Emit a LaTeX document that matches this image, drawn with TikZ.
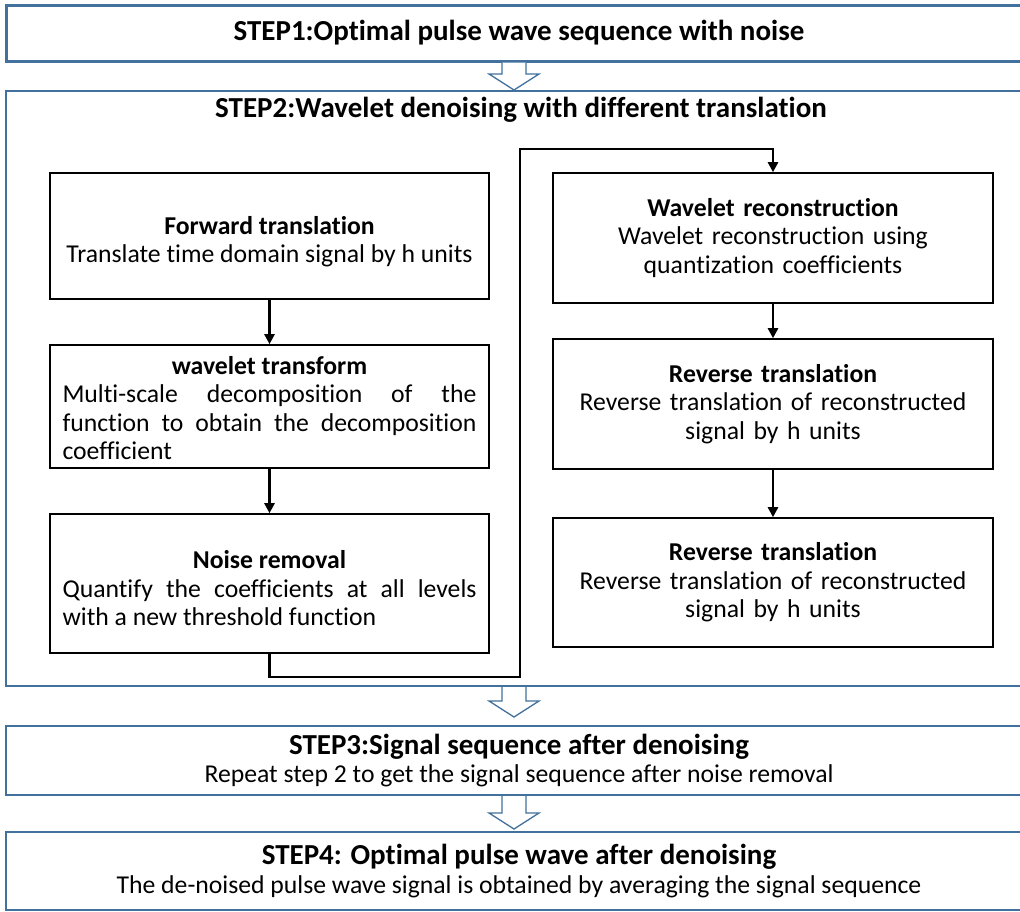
\documentclass[tikz,border=0pt]{standalone}
\usepackage{fontspec}
\setmainfont{Carlito}[Ligatures=NoCommon]
\usetikzlibrary{arrows.meta,calc}
\definecolor{stepblue}{RGB}{65,113,156}
\newcommand\stepbodyfont{\fontsize{25.7}{28.5}\selectfont}
\newcommand\steptitlefont{\fontsize{29}{32}\selectfont\bfseries}
\newcommand\justblock[3]{\begin{minipage}{414pt}\stepbodyfont\vspace*{#1}%
  {\centering\textbf{#2}\par}%
  \leftskip=0pt \rightskip=0pt \parfillskip=0pt plus 1fil \parindent=0pt
  \hyphenpenalty=10000 #3\par\end{minipage}}
\newcommand\centblock[3]{\begin{minipage}{430pt}\stepbodyfont\vspace*{#1}%
  \centering\textbf{#2}\\#3\par\end{minipage}}
\newcommand\hollowarrow[3]{%
  \path (ax |- #1.south) coordinate (ht) (ax |- #2.north) coordinate (hb);
  \draw[hollow] ($(ht)+(-12,0)$) -- ($(hb)+(-12,-16-#3)$) -- ($(hb)+(-25,-16-#3)$)
    -- ($(hb)+(0,-#3)$) -- ($(hb)+(25,-16-#3)$) -- ($(hb)+(12,-16-#3)$) -- ($(ht)+(12,0)$);
}
\begin{document}
\begin{tikzpicture}[x=1pt,y=-1pt,
  stepbox/.style={draw=stepblue, line width=2pt, fill=white, inner sep=0pt, minimum width=1026pt, align=center, font=\stepbodyfont},
  subbox/.style={draw=black, line width=1.6pt, inner sep=0pt, text width=430pt, align=center, font=\stepbodyfont},
  jbox/.style={draw=black, line width=1.6pt, inner sep=0pt, font=\stepbodyfont},
  conn/.style={line width=2.6pt, -{Triangle[width=10pt,length=10pt]}},
  hollow/.style={draw=stepblue, line width=1.3pt, fill=white, line join=miter}]
\useasboundingbox (0,0) rectangle (1020,911);
\clip (0,0) rectangle (1020,911);
\fill[white] (0,0) rectangle (1020,911);
\coordinate (ax) at (514,0);

% step boxes
\node[stepbox, line width=3pt, minimum height=56pt] (s1) at (519,33)
  {\steptitlefont STEP1:Optimal pulse wave sequence with noise};
\node[stepbox, minimum height=595pt] (s2) at (519,388.5) {};
\node[font=\steptitlefont] (s2t) at (521,110) {STEP2:Wavelet denoising with different translation};
\node[stepbox, minimum height=69pt] (s3) at (519,760.5)
  {{\steptitlefont STEP3:Signal sequence after denoising}\\Repeat step 2 to get the signal sequence after noise removal};
\node[stepbox, minimum height=78pt] (s4) at (519,871)
  {{\steptitlefont STEP4: Optimal pulse wave after denoising}\\The de-noised pulse wave signal is obtained by averaging the signal sequence};

% left column
\node[jbox, minimum width=439pt, minimum height=126pt] (ft) at (269.5,236)
  {\centblock{11pt}{Forward translation}{Translate time domain signal by h units}};
\node[jbox, minimum width=439pt, minimum height=123pt] (wt) at (269.5,406.5)
  {\justblock{3pt}{wavelet transform}{Multi-scale decomposition of the\linebreak function to obtain the decomposition\linebreak coefficient}};
\node[jbox, minimum width=439pt, minimum height=139pt] (nr) at (269.5,583.5)
  {\justblock{10pt}{Noise removal}{Quantify the coefficients at all levels\linebreak with a new threshold function}};

% right column
\node[subbox, minimum width=440pt, minimum height=130pt] (wr) at (773,238)
  {\textbf{Wavelet reconstruction}\\Wavelet reconstruction using\\quantization coefficients};
\node[subbox, minimum width=440pt, minimum height=130pt] (rt1) at (773,404)
  {\textbf{Reverse translation}\\Reverse translation of reconstructed\\signal by h units};
\node[subbox, minimum width=440pt, minimum height=129pt] (rt2) at (773,582.5)
  {\textbf{Reverse translation}\\Reverse translation of reconstructed\\signal by h units};

% connectors
\draw[conn] (ft.south) -- (wt.north);
\draw[conn] (wt.south) -- (nr.north);
\coordinate (j1) at (520,677);
\coordinate (j2) at (520,149);
\draw[conn] (nr.south) |- (j1) -- (j2) -| (wr.north);
\draw[conn] (wr.south) -- (rt1.north);
\draw[conn] (rt1.south) -- (rt2.north);

% hollow arrows between steps
\hollowarrow{s1}{s2}{0}
\hollowarrow{s2}{s3}{8}
\hollowarrow{s3}{s4}{2}
\end{tikzpicture}
\end{document}
